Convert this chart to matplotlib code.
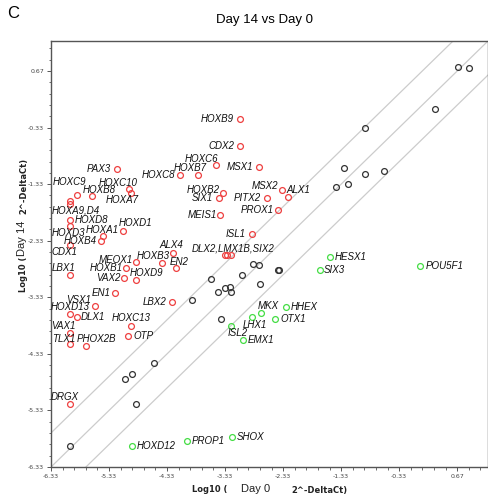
import numpy as np
import matplotlib
matplotlib.use("Agg")
import matplotlib.pyplot as plt
from matplotlib.ticker import MultipleLocator, FixedLocator

# genes up in Day 14 (red)
red_genes = ["HOXB9", "CDX2", "HOXC6", "MSX1", "HOXB7", "HOXC8", "PAX3", "HOXC10",
             "HOXA7", "HOXB8", "HOXC9", "HOXA9", "HOXD4", "HOXD8", "HOXD3", "HOXA1",
             "HOXB4", "HOXD1", "CDX1", "HOXB2", "SIX1", "MEIS1", "MSX2", "ALX1",
             "PITX2", "PROX1", "ISL1", "DLX2", "LMX1B", "SIX2", "ALX4", "HOXB3",
             "EN2", "MEOX1", "HOXB1", "LBX1", "VAX2", "HOXD9", "EN1", "LBX2",
             "VSX1", "HOXD13", "DLX1", "HOXC13", "OTP", "VAX1", "TLX1", "PHOX2B", "DRGX"]
red_x = [-3.08, -3.07, -3.48, -2.75, -3.79, -4.10, -5.19, -4.98,
         -4.95, -5.62, -5.89, -6.00, -6.00, -6.00, -6.00, -5.43,
         -5.47, -5.09, -6.00, -3.36, -3.44, -3.41, -2.35, -2.25,
         -2.61, -2.42, -2.87, -3.34, -3.29, -3.23, -4.23, -4.42,
         -4.17, -4.87, -5.03, -6.00, -5.07, -4.87, -5.23, -4.25,
         -5.58, -6.00, -5.89, -4.96, -5.00, -6.00, -6.00, -5.73, -6.00]
red_y = [-0.17, -0.66, -1.00, -1.03, -1.17, -1.16, -1.07, -1.41,
         -1.48, -1.54, -1.52, -1.63, -1.68, -1.97, -2.07, -2.24,
         -2.34, -2.15, -2.40, -1.49, -1.57, -1.88, -1.44, -1.55,
         -1.58, -1.78, -2.22, -2.59, -2.59, -2.59, -2.55, -2.73,
         -2.82, -2.71, -2.82, -2.94, -2.99, -3.03, -3.26, -3.42,
         -3.48, -3.63, -3.68, -3.84, -4.01, -3.97, -4.16, -4.19, -5.22]

# genes down in Day 14 (green)
green_genes = ["HOXD12", "PROP1", "SHOX", "HESX1", "SIX3", "POU5F1", "HHEX", "MKX",
               "OTX1", "LHX1", "ISL2", "EMX1"]
green_x = [-4.94, -3.99, -3.21, -1.53, -1.70, 0.02, -2.28, -2.71, -2.47, -2.87, -3.22, -3.03]
green_y = [-5.96, -5.87, -5.80, -2.62, -2.84, -2.77, -3.50, -3.61, -3.71, -3.67, -3.83, -4.09]

# unchanged genes (black)
black_x = [0.69, 0.88, 0.28, -0.92, -1.28, -0.92, -0.59, -1.22, -1.42,
           -2.85, -2.75, -2.41, -2.40, -3.04, -3.58, -3.25, -3.34, -3.46, -3.22,
           -2.73, -3.90, -3.40, -4.56, -4.94, -5.05, -4.87, -6.00]
black_y = [0.74, 0.73, 0.00, -0.33, -1.05, -1.15, -1.10, -1.32, -1.38,
           -2.75, -2.76, -2.84, -2.85, -2.94, -3.01, -3.14, -3.17, -3.23, -3.24,
           -3.10, -3.38, -3.71, -4.50, -4.69, -4.78, -5.22, -5.96]

fold = np.log10(4)
lo, hi = -6.33, 1.2

# label text -> (anchor gene, dx px, dy px, ha)
label_pos = {
    "HOXB9": ("HOXB9", -6, 0, "right"), "CDX2": ("CDX2", -6, 0, "right"),
    "HOXC6": ("HOXC6", 2, 6, "right"), "MSX1": ("MSX1", -6, 0, "right"),
    "HOXB7": ("HOXB7", 8, 7, "right"), "HOXC8": ("HOXC8", -5, 0, "right"),
    "PAX3": ("PAX3", -6, 0, "right"), "HOXC10": ("HOXC10", 8, 6, "right"),
    "HOXA7": ("HOXA7", 8, -7, "right"), "HOXB8": ("HOXB8", 23, 6, "right"),
    "HOXC9": ("HOXC9", 10, 13, "right"), "HOXA9,D4": ("HOXA9", -18, -9, "left"),
    "HOXD8": ("HOXD8", 5, 0, "left"), "HOXD3": ("HOXD3", -18, -7, "left"),
    "HOXA1": ("HOXA1", 15, 6, "right"), "HOXB4": ("HOXB4", -4, 0, "right"),
    "HOXD1": ("HOXD1", -4, 8, "left"), "CDX1": ("CDX1", -19, -7, "left"),
    "HOXB2": ("HOXB2", -4, 3, "right"), "SIX1": ("SIX1", -6, 0, "right"),
    "MEIS1": ("MEIS1", -4, 0, "right"), "MSX2": ("MSX2", -4, 4, "right"),
    "ALX1": ("ALX1", -1, 7, "left"), "PITX2": ("PITX2", -6, 0, "right"),
    "PROX1": ("PROX1", -4, 0, "right"), "ISL1": ("ISL1", -6, 0, "right"),
    "DLX2,LMX1B,SIX2": ("LMX1B", 6, 7, "center"), "ALX4": ("ALX4", -2, 8, "center"),
    "HOXB3": ("HOXB3", 8, 7, "right"), "EN2": ("EN2", -7, 6, "left"),
    "MEOX1": ("MEOX1", -3, 2, "right"), "HOXB1": ("HOXB1", -4, 0, "right"),
    "LBX1": ("LBX1", -18, 7, "left"), "VAX2": ("VAX2", -4, 0, "right"),
    "HOXD9": ("HOXD9", -6, 7, "left"), "EN1": ("EN1", -4, 0, "right"),
    "LBX2": ("LBX2", -5, 0, "right"), "VSX1": ("VSX1", -3, 6, "right"),
    "HOXD13": ("HOXD13", -19, 7, "left"), "DLX1": ("DLX1", 4, 0, "left"),
    "HOXC13": ("HOXC13", 1, 8, "center"), "OTP": ("OTP", 5, 0, "left"),
    "VAX1": ("VAX1", -19, 7, "left"), "TLX1": ("TLX1", -18, 5, "left"),
    "PHOX2B": ("PHOX2B", -9, 7, "left"), "DRGX": ("DRGX", -19, 7, "left"),
    "HOXD12": ("HOXD12", 5, 0, "left"), "PROP1": ("PROP1", 5, 0, "left"),
    "SHOX": ("SHOX", 5, 0, "left"), "HESX1": ("HESX1", 5, 0, "left"),
    "SIX3": ("SIX3", 4, 0, "left"), "POU5F1": ("POU5F1", 6, 0, "left"),
    "HHEX": ("HHEX", 5, 0, "left"), "MKX": ("MKX", 7, 7, "center"),
    "OTX1": ("OTX1", 5, 0, "left"), "LHX1": ("LHX1", -9, -8, "left"),
    "ISL2": ("ISL2", -4, -7, "left"), "EMX1": ("EMX1", 5, 0, "left"),
}

fig = plt.figure(figsize=(4.88, 4.95), dpi=100)
ax = fig.add_axes([51 / 488, 1 - 467 / 495, 437 / 488, 426 / 495])

for off in (fold, 0, -fold):
    ax.axline((0, off), slope=1, color="#cccccc", lw=0.9, zorder=1)

mk = dict(marker="o", ls="none", ms=4.2, mfc="none", mew=0.9, zorder=3)
ax.plot(black_x, black_y, mec="#333333", **mk)
ax.plot(red_x, red_y, mec="#ee4040", **mk)
ax.plot(green_x, green_y, mec="#44dd44", **mk)

coords = {g: (x, y) for g, x, y in zip(red_genes, red_x, red_y)}
coords.update({g: (x, y) for g, x, y in zip(green_genes, green_x, green_y)})
for text, (gene, dx, dy, ha) in label_pos.items():
    ax.annotate(text, coords[gene], xytext=(dx, dy), textcoords="offset pixels",
                ha=ha, va="center", fontsize=7, style="italic",
                family="Liberation Sans", color="#111111", zorder=4)

ax.set_xlim(lo, hi)
ax.set_ylim(lo, hi)
major = np.arange(lo, hi, 1.0)
ax.xaxis.set_major_locator(FixedLocator(major))
ax.yaxis.set_major_locator(FixedLocator(major))
ax.xaxis.set_minor_locator(FixedLocator(np.arange(lo, hi, 0.2)))
ax.yaxis.set_minor_locator(FixedLocator(np.arange(lo, hi, 0.2)))
ax.set_xticklabels([f"{v:.2f}" for v in major])
ax.set_yticklabels([f"{v:.2f}" for v in major])
ax.tick_params(which="major", length=3, width=0.7, color="#555555",
               labelsize=4.5, labelcolor="#444444", pad=2)
ax.tick_params(which="minor", length=1.8, width=0.6, color="#555555")
for s in ax.spines.values():
    s.set_color("#555555")
    s.set_linewidth(1.0)

# axis labels built from pieces
bold = dict(fontsize=6, fontweight="bold", color="#222222", ha="center", va="center")
fig.text(210 / 488, 1 - 490 / 495, "Log10 (", **bold)
fig.text(256 / 488, 1 - 489 / 495, "Day 0", fontsize=8, family="Liberation Sans",
         ha="center", va="center", color="#222222")
fig.text(319 / 488, 1 - 490 / 495, "2^-DeltaCt)", **bold)

fig.text(24 / 488, 1 - 274 / 495, "Log10 (", rotation=90, **bold)
fig.text(22 / 488, 1 - 238 / 495, "Day 14", rotation=90, fontsize=8,
         family="Liberation Sans", ha="center", va="center", color="#222222")
fig.text(24 / 488, 1 - 186 / 495, "2^-DeltaCt)", rotation=90, **bold)

fig.text(264 / 488, 1 - 20 / 495, "Day 14 vs Day 0", fontsize=9.5,
         family="Liberation Sans", ha="center", va="center")
fig.text(7 / 488, 1 - 14 / 495, "C", fontsize=12, family="Liberation Sans",
         ha="left", va="center")

fig.savefig("out.png", dpi=100)
